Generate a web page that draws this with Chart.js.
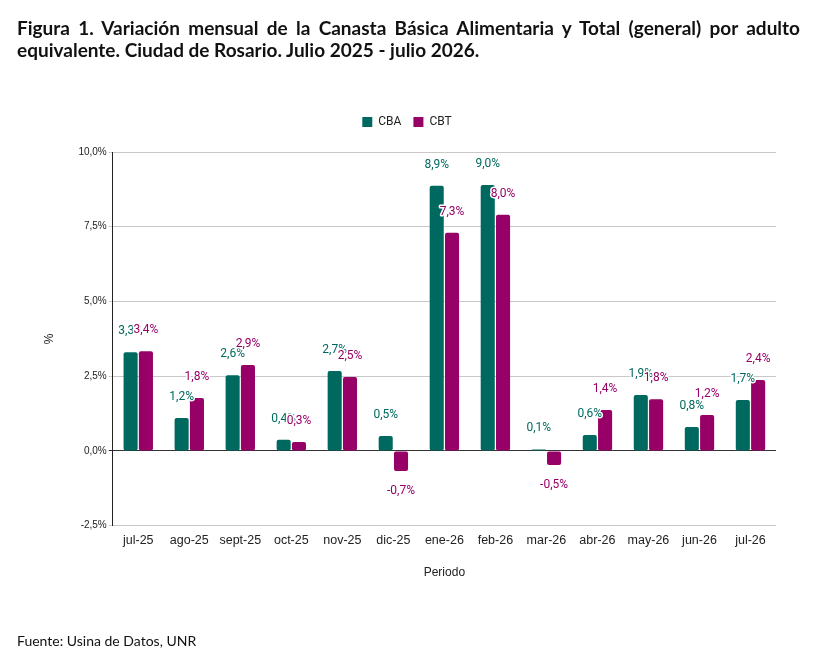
<!DOCTYPE html>
<html>
<head>
<meta charset="utf-8">
<script src="https://cdn.jsdelivr.net/npm/chart.js@4"></script>
<style>
  body { margin: 0; background: #fff; }
  #wrap { position: relative; width: 826px; height: 660px; }
  #title {
    position: absolute; left: 17px; top: 17px; width: 783px;
    font: bold 19px Lato, sans-serif; line-height: 22px; color: #111;
  }
  #title .l1 { text-align: justify; text-align-last: justify; white-space: nowrap; }
  #title .l2 { text-align: left; }
  #source {
    position: absolute; left: 17px; top: 632px;
    font: 14px Lato, sans-serif; color: #111;
  }
  #box { position: absolute; left: 0; top: 0; width: 826px; height: 660px; }
</style>
</head>
<body>
<div id="wrap">
  <div id="box"><canvas id="myChart"></canvas></div>
  <div id="title">
    <div class="l1">Figura 1. Variación mensual de la Canasta Básica Alimentaria y Total (general) por adulto</div>
    <div class="l2">equivalente. Ciudad de Rosario. Julio 2025 - julio 2026.</div>
  </div>
  <div id="source">Fuente: Usina de Datos, UNR</div>
</div>
<script>
// months on the x axis
const periods = ['jul-25', 'ago-25', 'sept-25', 'oct-25', 'nov-25', 'dic-25', 'ene-26', 'feb-26', 'mar-26', 'abr-26', 'may-26', 'jun-26', 'jul-26'];

// bar heights (%)
const cba = [3.3, 1.1, 2.53, 0.37, 2.67, 0.5, 8.87, 8.9, 0.05, 0.53, 1.87, 0.8, 1.7];
const cbt = [3.33, 1.77, 2.87, 0.3, 2.47, -0.67, 7.3, 7.9, -0.47, 1.37, 1.73, 1.2, 2.37];

// labels printed on the bars
const cbaLabels = ['3,3%', '1,2%', '2,6%', '0,4%', '2,7%', '0,5%', '8,9%', '9,0%', '0,1%', '0,6%', '1,9%', '0,8%', '1,7%'];
const cbtLabels = ['3,4%', '1,8%', '2,9%', '0,3%', '2,5%', '-0,7%', '7,3%', '8,0%', '-0,5%', '1,4%', '1,8%', '1,2%', '2,4%'];

const yTicks = [-2.5, 0, 2.5, 5, 7.5, 10];

const tealColor = '#00695f';
const purpleColor = '#970066';

// draw the value labels above / below every bar
const barLabels = {
  id: 'barLabels',
  afterDatasetsDraw(chart) {
    const ctx = chart.ctx;
    ctx.save();
    ctx.font = '12px Roboto, sans-serif';
    ctx.textAlign = 'center';
    ctx.textBaseline = 'middle';
    ctx.lineJoin = 'round';
    chart.data.datasets.forEach((ds, i) => {
      const meta = chart.getDatasetMeta(i);
      meta.data.forEach((bar, j) => {
        const v = ds.data[j];
        const y = v >= 0 ? bar.y - 21 : bar.y + 20;
        const txt = ds.valueLabels[j];
        ctx.lineWidth = 3;
        ctx.strokeStyle = '#fff';
        ctx.strokeText(txt, bar.x, y);
        ctx.fillStyle = ds.backgroundColor;
        ctx.fillText(txt, bar.x, y);
      });
    });
    ctx.restore();
  }
};

// extra room under the legend
const legendGap = {
  id: 'legendGap',
  beforeInit(chart) {
    const fit = chart.legend.fit;
    chart.legend.fit = function () {
      fit.call(this);
      this.height += 14;
    };
  }
};

const ctx = document.getElementById('myChart');
new Chart(ctx, {
  type: 'bar',
  data: {
    labels: periods,
    datasets: [{
      label: 'CBA',
      data: cba,
      valueLabels: cbaLabels,
      backgroundColor: tealColor,
      borderRadius: 2,
      borderSkipped: false,
      categoryPercentage: 0.6,
      barPercentage: 0.92
    }, {
      label: 'CBT',
      data: cbt,
      valueLabels: cbtLabels,
      backgroundColor: purpleColor,
      borderRadius: 2,
      borderSkipped: false,
      categoryPercentage: 0.6,
      barPercentage: 0.92
    }]
  },
  options: {
    responsive: true,
    maintainAspectRatio: false,
    animation: false,
    layout: { padding: { top: 104, left: 38, right: 50, bottom: 76 } },
    plugins: {
      legend: {
        position: 'top',
        labels: {
          boxWidth: 10, boxHeight: 10, padding: 12,
          color: '#222',
          font: { family: 'Roboto, sans-serif', size: 12 }
        }
      },
      tooltip: { enabled: false }
    },
    scales: {
      x: {
        grid: { display: false, drawTicks: false },
        border: { display: false },
        ticks: { color: '#222', padding: 7, font: { family: 'Liberation Sans, Arial, sans-serif', size: 12.5 } },
        title: { display: true, text: 'Periodo', color: '#222', padding: { top: 11 }, font: { family: 'Liberation Sans, Arial, sans-serif', size: 12 } }
      },
      y: {
        min: -2.5, max: 10,
        afterBuildTicks(axis) { axis.ticks = yTicks.map(v => ({ value: v })); },
        grid: {
          drawTicks: true, tickLength: 4,
          color: ctx2 => ctx2.tick && ctx2.tick.value === 0 ? '#333' : '#c8c8c8'
        },
        border: { display: true, color: '#222', width: 1 },
        ticks: {
          color: '#222', padding: 2,
          font: { family: 'Liberation Sans, Arial, sans-serif', size: 10 },
          callback: v => v.toFixed(1).replace('.', ',') + '%'
        },
        title: { display: true, text: '%', color: '#222', padding: { bottom: 20 }, font: { family: 'Liberation Sans, Arial, sans-serif', size: 12 } }
      }
    }
  },
  plugins: [barLabels, legendGap]
});
</script>
</body>
</html>
